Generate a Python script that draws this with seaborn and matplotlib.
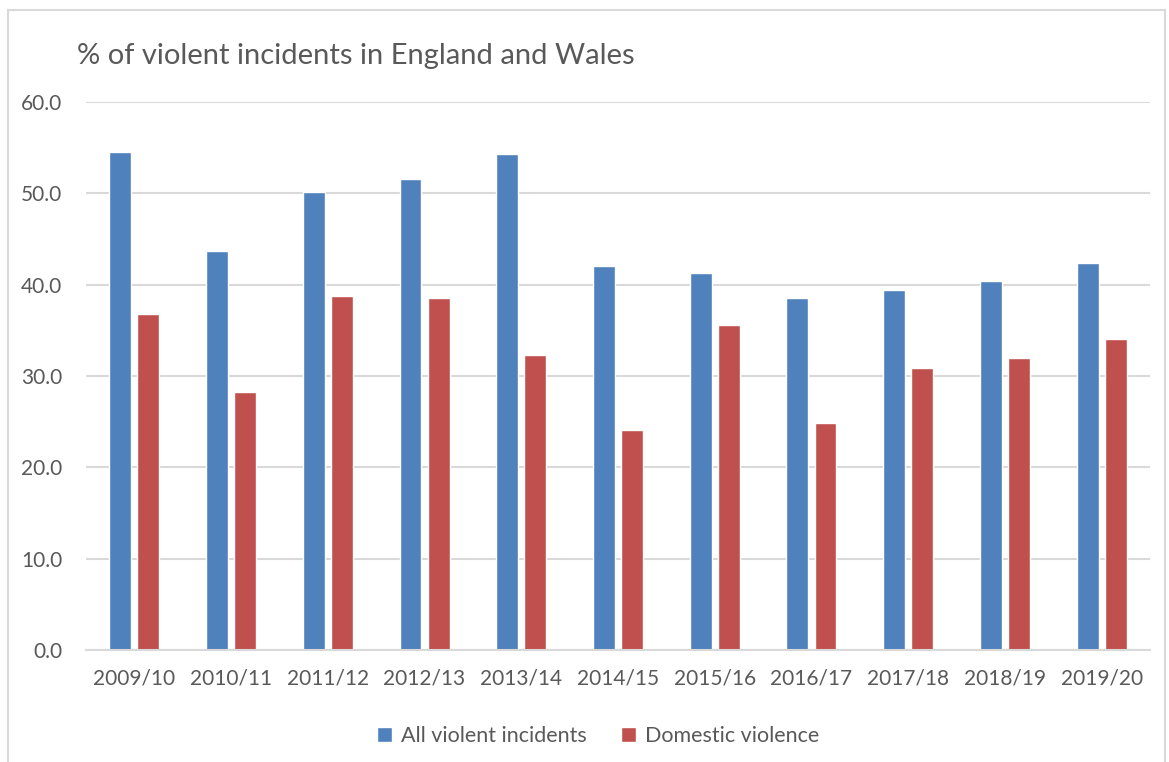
import matplotlib
matplotlib.use("Agg")
import matplotlib.pyplot as plt
import seaborn as sns
import pandas as pd
from matplotlib.lines import Line2D

years = ["2009/10", "2010/11", "2011/12", "2012/13", "2013/14", "2014/15",
         "2015/16", "2016/17", "2017/18", "2018/19", "2019/20"]
all_violent = [54.5, 43.7, 50.2, 51.6, 54.3, 42.0, 41.3, 38.5, 39.4, 40.4, 42.4]
domestic = [36.8, 28.2, 38.8, 38.5, 32.3, 24.1, 35.6, 24.8, 30.9, 32.0, 34.0]
series_names = ["All violent incidents", "Domestic violence"]
yticks = [0, 10, 20, 30, 40, 50, 60]
title = "% of violent incidents in England and Wales"

df = pd.DataFrame({
    "year": years * 2,
    "value": all_violent + domestic,
    "series": [series_names[0]] * len(years) + [series_names[1]] * len(years),
})

sns.set_theme(style="white")
plt.rcParams["font.family"] = ["Lato", "DejaVu Sans"]

text_color = "#595959"
grid_color = "#d9d9d9"

fig = plt.figure(figsize=(11.69, 7.62), dpi=100)
W, H = 1169, 762
ax = fig.add_axes([86 / W, 1 - 650 / H, (1150 - 86) / W, (650 - 102) / H])

sns.barplot(data=df, x="year", y="value", hue="series",
            palette=["#4F81BD", "#C0504D"], width=0.58, gap=0.22,
            saturation=1, ax=ax, legend=True)

ax.set_ylim(0, 60)
ax.set_yticks(yticks)
ax.set_yticklabels([f"{v:.1f}" for v in yticks])
ax.set_xlabel("")
ax.set_ylabel("")
ax.set_xlim(-0.5, len(years) - 0.5)
ax.grid(axis="y", color=grid_color, linewidth=1.5)
ax.set_axisbelow(True)
for s in ["top", "right", "left"]:
    ax.spines[s].set_visible(False)
ax.spines["bottom"].set_color(grid_color)
ax.spines["bottom"].set_linewidth(1.5)
ax.tick_params(axis="both", length=0, labelsize=15, colors=text_color)
ax.tick_params(axis="x", pad=13)
ax.tick_params(axis="y", pad=17)

handles, labels = ax.get_legend_handles_labels()
ax.get_legend().remove()
fig.legend(handles, labels, loc="center", bbox_to_anchor=(598 / W, 1 - 736 / H),
           ncol=2, frameon=False, fontsize=15.5, labelcolor=text_color,
           handlelength=0.7, handleheight=0.7, handletextpad=0.4,
           columnspacing=1.6)

fig.text(77 / W, 1 - 56 / H, title, fontsize=21, color=text_color,
         ha="left", va="center")

# chart border
border_kw = dict(color=grid_color, linewidth=1.5, transform=fig.transFigure)
fig.add_artist(Line2D([8 / W, 8 / W], [0, 1 - 10 / H], **border_kw))
fig.add_artist(Line2D([8 / W, 1165 / W], [1 - 10 / H, 1 - 10 / H], **border_kw))
fig.add_artist(Line2D([1165 / W, 1165 / W], [0, 1 - 10 / H], **border_kw))

fig.savefig("out.png", dpi=100)
